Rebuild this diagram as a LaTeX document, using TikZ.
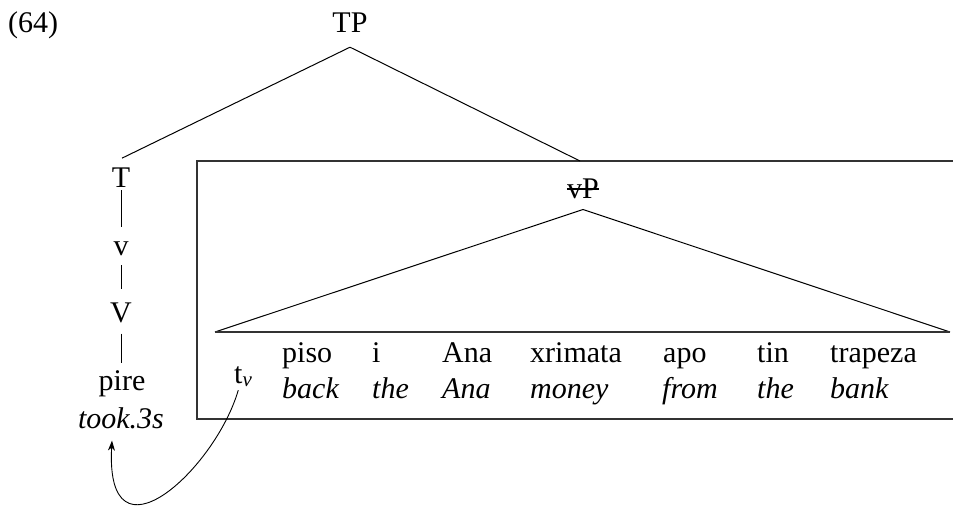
\documentclass[tikz,border=0pt]{standalone}
\usepackage{fontspec}
\setmainfont{Liberation Serif}
\usetikzlibrary{arrows.meta}
\begin{document}
\begin{tikzpicture}[x=1pt,y=-1pt,
  lbl/.style={inner sep=0pt,anchor=base,font=\fontsize{30}{35}\selectfont},
  wrd/.style={inner sep=0pt,anchor=base west,font=\fontsize{30}{35}\selectfont},
  gls/.style={wrd,font=\fontsize{30}{35}\selectfont\itshape},
  branch/.style={line width=1pt,black},
  boxline/.style={line width=1.6pt,black!80},
  movearrow/.style={line width=0.9pt,-{Stealth[length=10pt,width=7pt,inset=3pt]}}]
\useasboundingbox (0,0) rectangle (953,506);

% example number
\node[wrd] (num) at (8,32) {(64)};

% tree labels
\node[lbl] (TP) at (350,32) {TP};
\node[lbl] (T) at (121,187) {T};
\node[lbl] (v) at (121,255) {v};
\node[lbl] (V) at (121,322) {V};
\node[lbl] (pire) at (122,390) {pire};
\node[lbl,font=\fontsize{30}{35}\selectfont\itshape] (took) at (121,428) {took.3s};
\node[lbl] (vP) at (583,198) {vP};
\draw[line width=1.1pt] ([yshift=9pt]vP.base west) -- ([yshift=9pt]vP.base east);

% box
\coordinate (boxTR) at (953,161);
\coordinate (boxTL) at (197,161);
\coordinate (boxBL) at (197,419);
\coordinate (boxBR) at (953,419);
\coordinate (vPtop) at (580,161);
\draw[boxline] (boxTR) -- (boxTL) -- (boxBL) -- (boxBR);

% triangle
\coordinate (triL) at (215,332);
\coordinate (triR) at (950,332);
\draw[branch] ([yshift=-11pt]vP.south) -- (triL);
\draw[branch] ([yshift=-11pt]vP.south) -- (triR);
\draw[boxline] (triL) -- (triR);

% TP branches
\draw[branch] ([yshift=-15pt]TP.south) -- ([xshift=1pt,yshift=9pt]T.north);
\draw[branch] ([yshift=-15pt]TP.south) -- (vPtop);

% head chain
\draw[branch,shorten <=3pt,shorten >=14pt] (T.south) -- (v.north);
\draw[branch,shorten <=10pt,shorten >=13pt] (v.south) -- (V.north);
\draw[branch,shorten <=11pt,shorten >=7pt] (V.south) -- (pire.north -| V.south);

% words
\node[wrd] (tv) at (234,383) {t\textsubscript{\itshape v}};
\node[wrd] (w1) at (282,362) {piso};
\node[wrd] (w2) at (372,362) {i};
\node[wrd] (w3) at (442,362) {Ana};
\node[wrd] (w4) at (530,362) {xrimata};
\node[wrd] (w5) at (663,362) {apo};
\node[wrd] (w6) at (757,362) {tin};
\node[wrd] (w7) at (830,362) {trapeza};
\node[gls] (g1) at (282,398) {back};
\node[gls] (g2) at (372,398) {the};
\node[gls] (g3) at (442,398) {Ana};
\node[gls] (g4) at (530,398) {money};
\node[gls] (g5) at (662,398) {from};
\node[gls] (g6) at (757,398) {the};
\node[gls] (g7) at (830,398) {bank};

% movement arrow
\draw[movearrow] ([xshift=-5pt,yshift=-3pt]tv.south) .. controls (215,470) and (105,570) .. ([xshift=-9pt,yshift=-12pt]took.south);
\end{tikzpicture}
\end{document}
